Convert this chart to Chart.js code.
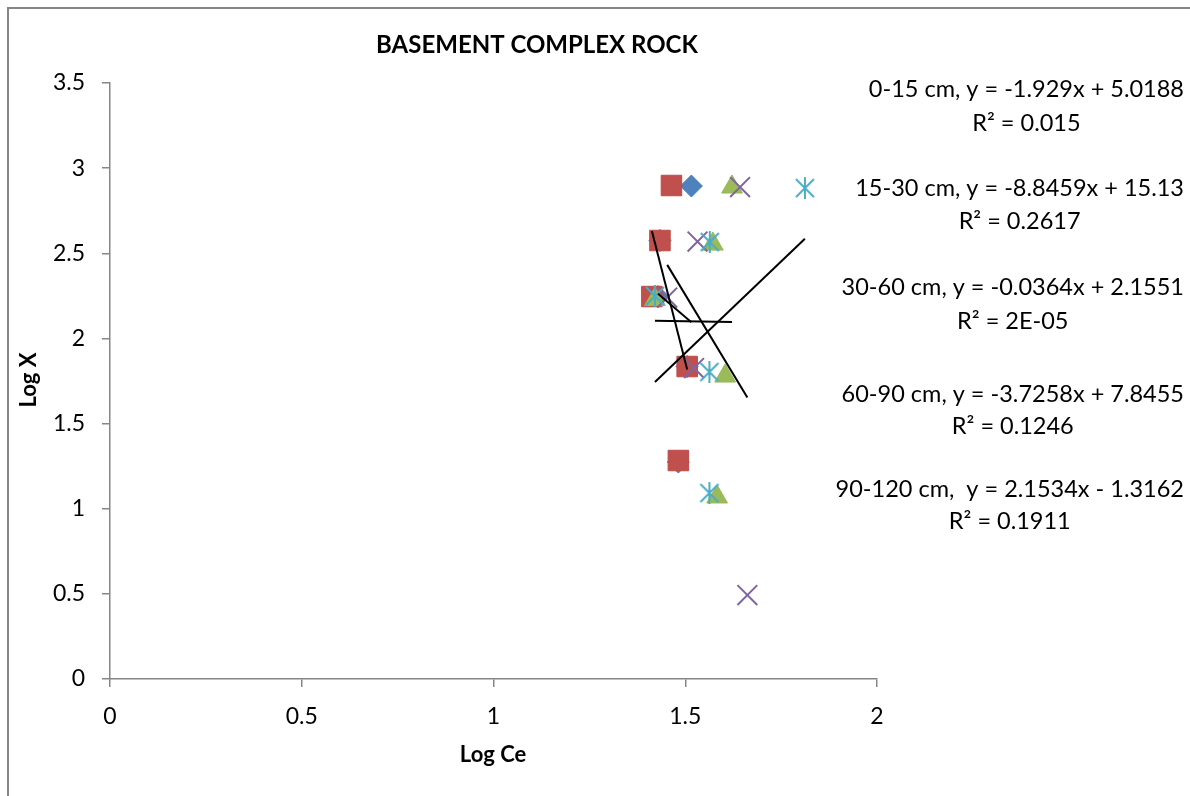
<!DOCTYPE html>
<html>
<head>
<meta charset="utf-8">
<title>Basement Complex Rock</title>
<script src="https://cdn.jsdelivr.net/npm/chart.js@4/dist/chart.umd.min.js"></script>
<style>
  html, body { margin: 0; padding: 0; background: #ffffff; }
  canvas { display: block; }
</style>
</head>
<body>
<canvas id="chart" width="1190" height="796"></canvas>
<script>
// Depth intervals (one scatter series each)
const depthNames = ['0-15 cm', '15-30 cm', '30-60 cm', '60-90 cm', '90-120 cm'];

// Log Ce (x) and Log X (y) per depth
const logCe_0_15   = [1.516, 1.434, 1.429, 1.505, 1.482];
const logX_0_15    = [2.895, 2.575, 2.246, 1.835, 1.274];

const logCe_15_30  = [1.464, 1.434, 1.413, 1.505, 1.482];
const logX_15_30   = [2.898, 2.575, 2.246, 1.835, 1.283];

const logCe_30_60  = [1.622, 1.572, 1.421, 1.604, 1.583];
const logX_30_60   = [2.889, 2.554, 2.229, 1.779, 1.069];

const logCe_60_90  = [1.643, 1.532, 1.453, 1.523, 1.662];
const logX_60_90   = [2.889, 2.569, 2.240, 1.826, 0.493];

const logCe_90_120 = [1.812, 1.564, 1.421, 1.563, 1.563];
const logX_90_120  = [2.883, 2.566, 2.249, 1.803, 1.092];

// Linear trendline fits (y = slope * x + intercept) and their R² labels
const trendSlopes     = [-1.929, -8.8459, -0.0364, -3.7258, 2.1534];
const trendIntercepts = [5.0188, 15.13, 2.1551, 7.8455, -1.3162];
const rSquaredLabels  = ['0.015', '0.2617', '2E-05', '0.1246', '0.1911'];

// Axis tick values and their labels
const xTickValues = [0, 0.5, 1, 1.5, 2];
const xTickLabels = ['0', '0.5', '1', '1.5', '2'];
const yTickValues = [0, 0.5, 1, 1.5, 2, 2.5, 3, 3.5];
const yTickLabels = ['0', '0.5', '1', '1.5', '2', '2.5', '3', '3.5'];

const seriesX = [logCe_0_15, logCe_15_30, logCe_30_60, logCe_60_90, logCe_90_120];
const seriesY = [logX_0_15, logX_15_30, logX_30_60, logX_60_90, logX_90_120];

const FONT = "Lato, 'Open Sans', 'Noto Sans', sans-serif";
const AXIS_GREY = '#868686';

// Asterisk marker: vertical bar plus two diagonals
function asteriskMarker(color) {
  const size = 24;
  const c = document.createElement('canvas');
  c.width = size; c.height = size;
  const g = c.getContext('2d');
  g.strokeStyle = color;
  g.lineWidth = 2;
  const m = size / 2, r = 11, d = 9;
  g.beginPath();
  g.moveTo(m, m - r); g.lineTo(m, m + r);
  g.moveTo(m - d, m - d); g.lineTo(m + d, m + d);
  g.moveTo(m + d, m - d); g.lineTo(m - d, m + d);
  g.stroke();
  return c;
}

const markerStyles = [
  { pointStyle: 'rectRot',  pointRadius: 11,   fill: '#4F81BD', border: '#4A7EBB', borderWidth: 1 },
  { pointStyle: 'rect',     pointRadius: 14.5, fill: '#C0504D', border: '#BE4B48', borderWidth: 1 },
  { pointStyle: 'triangle', pointRadius: 12,   fill: '#9BBB59', border: '#98B954', borderWidth: 1 },
  { pointStyle: 'crossRot', pointRadius: 14,   fill: '#8064A2', border: '#8064A2', borderWidth: 2 },
  { pointStyle: asteriskMarker('#4BACC6'), pointRadius: 11, fill: '#4BACC6', border: '#4BACC6', borderWidth: 2 }
];

const datasets = [];

// Trendlines span each series' own x range; lower order draws on top
depthNames.forEach((name, i) => {
  const xs = seriesX[i];
  const x0 = Math.min(...xs), x1 = Math.max(...xs);
  datasets.push({
    type: 'line',
    label: name + ' trend',
    data: [
      { x: x0, y: trendSlopes[i] * x0 + trendIntercepts[i] },
      { x: x1, y: trendSlopes[i] * x1 + trendIntercepts[i] }
    ],
    borderColor: '#000000',
    borderWidth: 2,
    pointRadius: 0,
    fill: false,
    order: i
  });
});

// Scatter series, later depths drawn over earlier ones
depthNames.forEach((name, i) => {
  const s = markerStyles[i];
  datasets.push({
    type: 'scatter',
    label: name,
    data: seriesX[i].map((x, k) => ({ x: x, y: seriesY[i][k] })),
    pointStyle: s.pointStyle,
    pointRadius: s.pointRadius,
    pointHoverRadius: s.pointRadius,
    backgroundColor: s.fill,
    borderColor: s.border,
    pointBorderWidth: s.borderWidth,
    borderWidth: s.borderWidth,
    order: 10 + (depthNames.length - 1 - i)
  });
});

function eqText(i) {
  const sep = i === depthNames.length - 1 ? ',  ' : ', ';
  const b = trendIntercepts[i];
  return depthNames[i] + sep + 'y = ' + trendSlopes[i] + 'x ' + (b < 0 ? '- ' : '+ ') + Math.abs(b);
}

// Frame, titles and trendline equation labels
const decorations = {
  id: 'decorations',
  beforeDraw(chart) {
    const ctx = chart.ctx;
    ctx.save();
    ctx.fillStyle = '#ffffff';
    ctx.fillRect(0, 0, chart.width, chart.height);
    ctx.strokeStyle = AXIS_GREY;
    ctx.lineWidth = 2;
    ctx.beginPath();
    ctx.moveTo(8, chart.height);
    ctx.lineTo(8, 8);
    ctx.lineTo(chart.width, 8);
    ctx.stroke();
    ctx.restore();
  },
  afterDraw(chart) {
    const ctx = chart.ctx;
    ctx.save();
    ctx.fillStyle = '#000000';
    ctx.textBaseline = 'middle';

    ctx.textAlign = 'center';
    ctx.font = 'bold 24px ' + FONT;
    ctx.fillText('BASEMENT COMPLEX ROCK', 537, 45);

    ctx.font = 'bold 22px ' + FONT;
    ctx.fillText('Log Ce', 493, 755);

    ctx.save();
    ctx.translate(29, 380);
    ctx.rotate(-Math.PI / 2);
    ctx.fillText('Log X', 0, 0);
    ctx.restore();

    ctx.font = '23.5px ' + FONT;
    const line1Y = [89, 188, 287, 394, 489];
    const line2Y = [123, 221, 321, 426, 521];
    const rightEdge = 1184;
    depthNames.forEach((name, i) => {
      const t1 = eqText(i);
      const w1 = ctx.measureText(t1).width;
      const cx = rightEdge - w1 / 2;
      ctx.fillText(t1, cx, line1Y[i]);
      ctx.fillText('R\u00B2 = ' + rSquaredLabels[i], cx, line2Y[i]);
    });
    ctx.restore();
  }
};

function tickLabel(values, labels) {
  return function (value) {
    const k = values.indexOf(value);
    return k >= 0 ? labels[k] : '';
  };
}

new Chart(document.getElementById('chart'), {
  type: 'scatter',
  data: { datasets: datasets },
  plugins: [decorations],
  options: {
    responsive: false,
    animation: false,
    devicePixelRatio: 1,
    layout: { padding: { left: 0, top: 83, right: 313, bottom: 0 } },
    font: { family: FONT },
    plugins: {
      legend: { display: false },
      title: { display: false },
      tooltip: { enabled: false }
    },
    scales: {
      x: {
        type: 'linear',
        position: 'bottom',
        min: 0,
        max: 2,
        afterBuildTicks(scale) { scale.ticks = xTickValues.map(v => ({ value: v })); },
        afterFit(scale) { scale.height = 117; },
        ticks: { color: '#000000', padding: 16, font: { family: FONT, size: 23 },
                 callback: tickLabel(xTickValues, xTickLabels) },
        grid: { drawOnChartArea: false, drawTicks: true, tickLength: 8, color: AXIS_GREY, lineWidth: 1.5 },
        border: { display: true, color: AXIS_GREY, width: 1.5 }
      },
      y: {
        type: 'linear',
        position: 'left',
        min: 0,
        max: 3.5,
        afterBuildTicks(scale) { scale.ticks = yTickValues.map(v => ({ value: v })); },
        afterFit(scale) { scale.width = 110; },
        ticks: { color: '#000000', padding: 17, font: { family: FONT, size: 23 },
                 callback: tickLabel(yTickValues, yTickLabels) },
        grid: { drawOnChartArea: false, drawTicks: true, tickLength: 8, color: AXIS_GREY, lineWidth: 1.5 },
        border: { display: true, color: AXIS_GREY, width: 1.5 }
      }
    }
  }
});
</script>
</body>
</html>
